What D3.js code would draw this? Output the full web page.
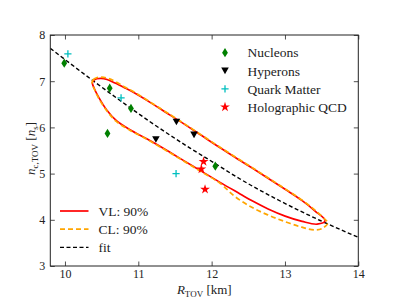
<!DOCTYPE html>
<html>
<head>
<meta charset="utf-8">
<script src="https://cdn.jsdelivr.net/npm/d3@7"></script>
<style>
  body { margin: 0; background: #fff; }
  svg { display: block; }
  text { font-family: "Liberation Serif", "DejaVu Serif", serif; fill: #222; }
</style>
</head>
<body>
<script>
// ---- data ----
const xTicks = [10, 11, 12, 13, 14];
const yTicks = [3, 4, 5, 6, 7, 8];

const nucleonR = [9.99, 10.61, 10.90, 10.58, 12.05];
const nucleonN = [7.39, 6.85, 6.41, 5.87, 5.16];
const hyperonR = [11.24, 11.52, 11.76];
const hyperonN = [5.74, 6.12, 5.84];
const quarkR = [10.04, 10.765, 11.515];
const quarkN = [7.59, 6.64, 5.00];
const holoR = [11.89, 11.86, 11.91];
const holoN = [5.26, 5.10, 4.66];

// fit curve
const fitR = [9.8, 10.40, 10.751, 11.160, 11.706, 12.047, 12.388, 12.934, 13.480, 14.0];
const fitN = [7.712, 6.99, 6.582, 6.123, 5.552, 5.219, 4.883, 4.407, 3.985, 3.621];

// VL 90% contour: upper branch (left tip -> right tip), lower branch (left tip -> right tip)
const vlUpper = [[10.373, 6.968], [10.396, 7.022], [10.437, 7.052], [10.492, 7.063], [10.574, 7.037],
  [10.683, 6.961], [10.819, 6.853], [10.956, 6.738], [11.183, 6.52], [11.365, 6.335], [11.569, 6.13],
  [11.842, 5.845], [12.115, 5.56], [12.388, 5.285], [12.548, 5.125], [12.774, 4.895], [13.002, 4.66],
  [13.23, 4.42], [13.411, 4.19], [13.548, 3.981]];
const vlLower = [[10.403, 6.831], [10.455, 6.665], [10.569, 6.377], [10.706, 6.139], [10.887, 5.95],
  [11.115, 5.755], [11.242, 5.64], [11.433, 5.46], [11.569, 5.33], [11.842, 5.07], [12.115, 4.81],
  [12.388, 4.56], [12.552, 4.41], [12.770, 4.235], [13.002, 4.08], [13.234, 3.965], [13.438, 3.905]];

// CL 90% contour
const clUpper = [[10.37, 6.97], [10.39, 7.04], [10.44, 7.08], [10.50, 7.09], [10.58, 7.065], [10.69, 6.99],
  [10.82, 6.87], [10.96, 6.75], [11.18, 6.53], [11.365, 6.345], [11.569, 6.14], [11.842, 5.855],
  [12.115, 5.57], [12.388, 5.295], [12.548, 5.135], [12.774, 4.905], [13.002, 4.67], [13.23, 4.43],
  [13.42, 4.195], [13.56, 3.99], [13.589, 3.942]];
const clLower = [[10.40, 6.83], [10.45, 6.66], [10.565, 6.37], [10.70, 6.13], [10.885, 5.94],
  [11.115, 5.745], [11.242, 5.63], [11.433, 5.45], [11.569, 5.32], [11.842, 5.055], [12.115, 4.79],
  [12.32, 4.50], [12.548, 4.27], [12.774, 4.10], [13.002, 3.96], [13.23, 3.84], [13.411, 3.78],
  [13.511, 3.815]];

const W = 399, H = 299;
const svg = d3.select("body").append("svg").attr("width", W).attr("height", H);

let x = d3.scaleLinear().domain([9.8, 14]).range([50.3, 358.3]);
let y = d3.scaleLinear().domain([3, 8]).range([266, 35]);
let [x0, x1] = x.range(), [y1, y0] = y.range();

svg.append("defs").append("clipPath").attr("id", "plot")
  .append("rect").attr("x", x0).attr("y", y0).attr("width", x1 - x0).attr("height", y1 - y0);

let g = svg.append("g").attr("clip-path", "url(#plot)");

// fit line
let line = d3.line().x(d => x(d[0])).y(d => y(d[1])).curve(d3.curveMonotoneX);
g.append("path").attr("class", "fit")
  .attr("d", line(fitR.map((r, i) => [r, fitN[i]])))
  .attr("fill", "none").attr("stroke", "#000")
  .attr("stroke-width", 1.4).attr("stroke-dasharray", "4,2.5");

// contours
let loop = d3.line().x(d => x(d[0])).y(d => y(d[1])).curve(d3.curveCatmullRomClosed.alpha(0.5));
let closed = (up, lo) => up.concat(lo.slice().reverse());

g.append("path").attr("class", "vl")
  .attr("d", loop(closed(vlUpper, vlLower)))
  .attr("fill", "none").attr("stroke", "#ff0000").attr("stroke-width", 1.7);
g.append("path").attr("class", "cl")
  .attr("d", loop(closed(clUpper, clLower)))
  .attr("fill", "none").attr("stroke", "#ffa500").attr("stroke-width", 1.7)
  .attr("stroke-dasharray", "5,3");

// markers
let diamond = "M0,-4.6L2.9,0L0,4.6L-2.9,0Z";
let tri = "M-3.8,-3.2L3.8,-3.2L0,3.4Z";
let plus = "M-3.6,0H3.6M0,-3.6V3.6";
let star = d3.symbol(d3.symbolStar, 30)();

function markers(cls, R, N, path, fill, stroke) {
  g.append("g").attr("class", cls).selectAll("path").data(R.map((r, i) => [r, N[i]])).enter()
    .append("path")
    .attr("d", path)
    .attr("transform", d => `translate(${x(d[0])},${y(d[1])})`)
    .attr("fill", fill)
    .attr("stroke", stroke)
    .attr("stroke-width", stroke === "none" ? 0 : 1.3);
}
markers("nucleons", nucleonR, nucleonN, diamond, "#008000", "none");
markers("hyperons", hyperonR, hyperonN, tri, "#000", "none");
markers("quark", quarkR, quarkN, plus, "none", "#00bfbf");
markers("holo", holoR, holoN, star, "#ff0000", "none");

// axes with inward ticks on all four sides
let minorX = d3.range(9.8, 14.001, 0.1).map(v => +v.toFixed(2));
let minorY = d3.range(3, 8.001, 0.1).map(v => +v.toFixed(2));

function drawAxis(axisFn, scale, major, minor, tr, labels, pad) {
  let a = svg.append("g").attr("transform", tr);
  a.call(axisFn(scale).tickValues(minor).tickSize(-2.2).tickFormat(""));
  a.call(axisFn(scale).tickValues(major).tickSize(-4.5).tickPadding(pad)
    .tickFormat(labels ? d3.format("d") : ""));
  a.selectAll(".domain").remove();
  a.selectAll("line").attr("stroke", "#222").attr("stroke-width", 0.8);
  a.selectAll("text").style("font-size", "12px").attr("fill", "#222");
  return a;
}
drawAxis(d3.axisBottom, x, xTicks, minorX, `translate(0,${y1})`, true, 3);
drawAxis(d3.axisTop, x, xTicks, minorX, `translate(0,${y0})`, false, 3);
drawAxis(d3.axisLeft, y, yTicks, minorY, `translate(${x0},0)`, true, 5);
drawAxis(d3.axisRight, y, yTicks, minorY, `translate(${x1},0)`, false, 5);

svg.append("rect").attr("x", x0).attr("y", y0).attr("width", x1 - x0).attr("height", y1 - y0)
  .attr("fill", "none").attr("stroke", "#222").attr("stroke-width", 1);

// axis labels
let xl = svg.append("text").attr("x", (x0 + x1) / 2).attr("y", 293.5)
  .attr("text-anchor", "middle").style("font-size", "13px");
xl.append("tspan").style("font-style", "italic").text("R");
xl.append("tspan").attr("dy", 3).style("font-size", "9px").text("TOV");
xl.append("tspan").attr("dy", -3).text(" [km]");

let yl = svg.append("text").attr("transform", `translate(35,${(y0 + y1) / 2 - 2}) rotate(-90)`)
  .attr("text-anchor", "middle").style("font-size", "13px");
yl.append("tspan").style("font-style", "italic").text("n");
yl.append("tspan").attr("dy", 3).style("font-size", "9px").text("c,TOV");
yl.append("tspan").attr("dy", -3).text(" [");
yl.append("tspan").style("font-style", "italic").text("n");
yl.append("tspan").attr("dy", 3).style("font-size", "9px").text("s");
yl.append("tspan").attr("dy", -3).text("]");

// legend: markers
const legendNames = ["Nucleons", "Hyperons", "Quark Matter", "Holographic QCD"];
const legendMarks = [
  {d: diamond, fill: "#008000", stroke: "none"},
  {d: tri, fill: "#000", stroke: "none"},
  {d: plus, fill: "none", stroke: "#00bfbf"},
  {d: star, fill: "#ff0000", stroke: "none"}
];
let lg = svg.append("g").attr("class", "legend1");
legendNames.forEach((name, i) => {
  let yy = 52.7 + i * 18.1;
  let m = legendMarks[i];
  lg.append("path").attr("d", m.d).attr("transform", `translate(225,${yy})`)
    .attr("fill", m.fill).attr("stroke", m.stroke).attr("stroke-width", m.stroke === "none" ? 0 : 1.3);
  lg.append("text").attr("x", 247.5).attr("y", yy).attr("dy", "0.35em")
    .style("font-size", "13.5px").text(name);
});

// legend: lines
const lineNames = ["VL: 90%", "CL: 90%", "fit"];
const lineStyles = [
  {stroke: "#ff0000", dash: null, w: 1.7},
  {stroke: "#ffa500", dash: "5,3", w: 1.7},
  {stroke: "#000", dash: "4,2.5", w: 1.4}
];
let lg2 = svg.append("g").attr("class", "legend2");
lineNames.forEach((name, i) => {
  let yy = 211 + i * 18.2;
  let s = lineStyles[i];
  lg2.append("line").attr("x1", 60).attr("x2", 88.5).attr("y1", yy).attr("y2", yy)
    .attr("stroke", s.stroke).attr("stroke-width", s.w).attr("stroke-dasharray", s.dash);
  lg2.append("text").attr("x", 98.5).attr("y", yy).attr("dy", "0.35em")
    .style("font-size", "13.5px").text(name);
});
</script>
</body>
</html>
